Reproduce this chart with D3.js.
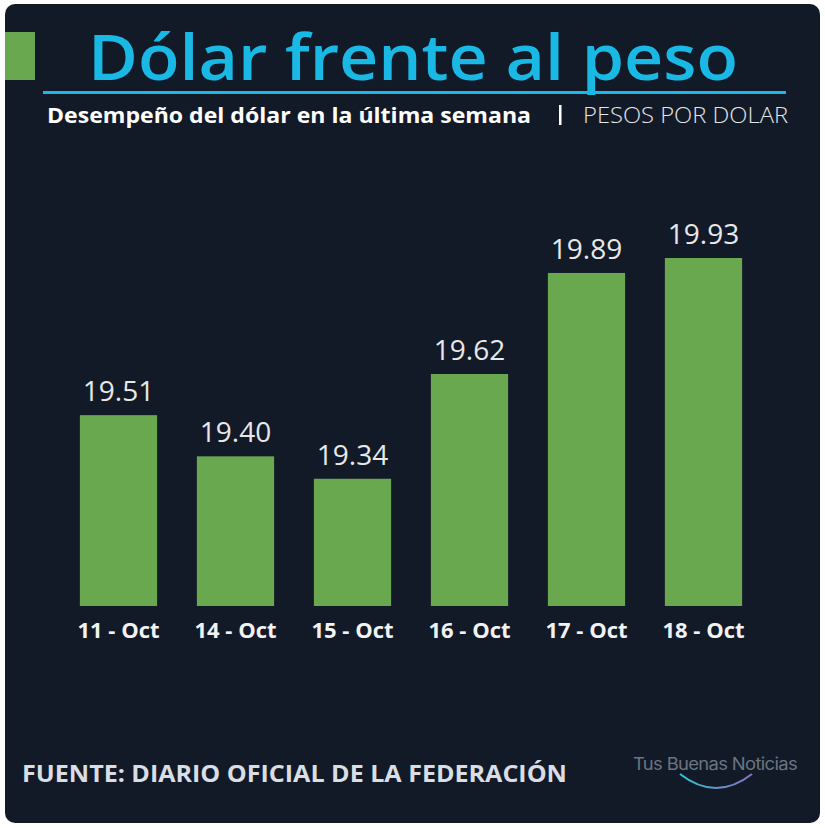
<!DOCTYPE html>
<html><head><meta charset="utf-8">
<script src="https://cdn.jsdelivr.net/npm/d3@7"></script>
<style>html,body{margin:0;padding:0;background:#fff;}svg{display:block;}</style>
</head><body>
<script>
const categories = ["11 - Oct","14 - Oct","15 - Oct","16 - Oct","17 - Oct","18 - Oct"];
const values = [19.51, 19.40, 19.34, 19.62, 19.89, 19.93];
const valueLabels = ["19.51","19.40","19.34","19.62","19.89","19.93"];

const W = 825, H = 828;
const svg = d3.select("body").append("svg").attr("width", W).attr("height", H);
const font = "'Open Sans','Noto Sans',sans-serif";

svg.append("rect").attr("x",5).attr("y",4).attr("width",815).attr("height",819).attr("rx",10).attr("fill","#121a28");
svg.append("rect").attr("x",5).attr("y",32).attr("width",30).attr("height",48).attr("fill","#6aa84f");

svg.append("text").attr("x",88).attr("y",80).attr("font-family",font).attr("font-weight",600)
  .attr("font-size",63).attr("fill","#1ab8e4").attr("textLength",650).attr("lengthAdjust","spacingAndGlyphs")
  .text("Dólar frente al peso");
svg.append("rect").attr("x",43).attr("y",91).attr("width",743).attr("height",3).attr("fill","#1ab8e4");

svg.append("text").attr("x",47).attr("y",123).attr("font-family",font).attr("font-weight",700)
  .attr("font-size",21).attr("fill","#ffffff").attr("textLength",484).attr("lengthAdjust","spacingAndGlyphs")
  .text("Desempeño del dólar en la última semana");
svg.append("rect").attr("x",559).attr("y",105).attr("width",2.5).attr("height",20).attr("fill","#ffffff");
svg.append("text").attr("x",583).attr("y",123).attr("font-family",font).attr("font-weight",300)
  .attr("font-size",22).attr("fill","#e6e6e6").attr("textLength",205).attr("lengthAdjust","spacingAndGlyphs")
  .text("PESOS POR DOLAR");

const x = d3.scaleBand().domain(categories).range([60,762]).paddingInner(0.34).paddingOuter(0.17);
const y = d3.scaleLinear().domain([19, 20]).range([606, 231.8]);

const g = svg.append("g");
g.selectAll("rect.bar").data(values).join("rect").attr("class","bar")
  .attr("x",(d,i)=>x(categories[i])).attr("width",x.bandwidth())
  .attr("y",d=>y(d)).attr("height",d=>y(19)-y(d)).attr("fill","#6aa84f");
g.selectAll("text.val").data(values).join("text").attr("class","val")
  .attr("x",(d,i)=>x(categories[i])+x.bandwidth()/2).attr("y",d=>y(d)-14)
  .attr("text-anchor","middle").attr("font-family",font).attr("font-size",28).attr("fill","#e8e8e8")
  .text((d,i)=>valueLabels[i]);

const xAxis = d3.axisBottom(x).tickSize(0).tickPadding(0);
const ax = svg.append("g").attr("transform","translate(0,606)").call(xAxis);
ax.select(".domain").remove();
ax.selectAll("text").attr("dy",null).attr("y",32).attr("font-family",font).attr("font-weight",700)
  .attr("font-size",22).attr("fill","#f2f2f2");

svg.append("text").attr("x",22).attr("y",782).attr("font-family",font).attr("font-weight",700)
  .attr("font-size",23).attr("fill","#d9dee4").attr("textLength",545).attr("lengthAdjust","spacingAndGlyphs")
  .text("FUENTE: DIARIO OFICIAL DE LA FEDERACIÓN");

const defs = svg.append("defs");
const grad = defs.append("linearGradient").attr("id","lg").attr("x1","0").attr("x2","1");
grad.append("stop").attr("offset","0").attr("stop-color","#2ec4d6");
grad.append("stop").attr("offset","1").attr("stop-color","#8a6fc0");
svg.append("text").attr("x",633).attr("y",770).attr("font-family","Inter,'Noto Sans',sans-serif")
  .attr("font-size",17).attr("fill","#6b7480").attr("letter-spacing",-0.6).attr("textLength",164)
  .attr("lengthAdjust","spacingAndGlyphs").text("Tus Buenas Noticias");
svg.append("path").attr("d","M680,774 Q716,802 752,774").attr("fill","none")
  .attr("stroke","url(#lg)").attr("stroke-width",2);
</script>
</body></html>
